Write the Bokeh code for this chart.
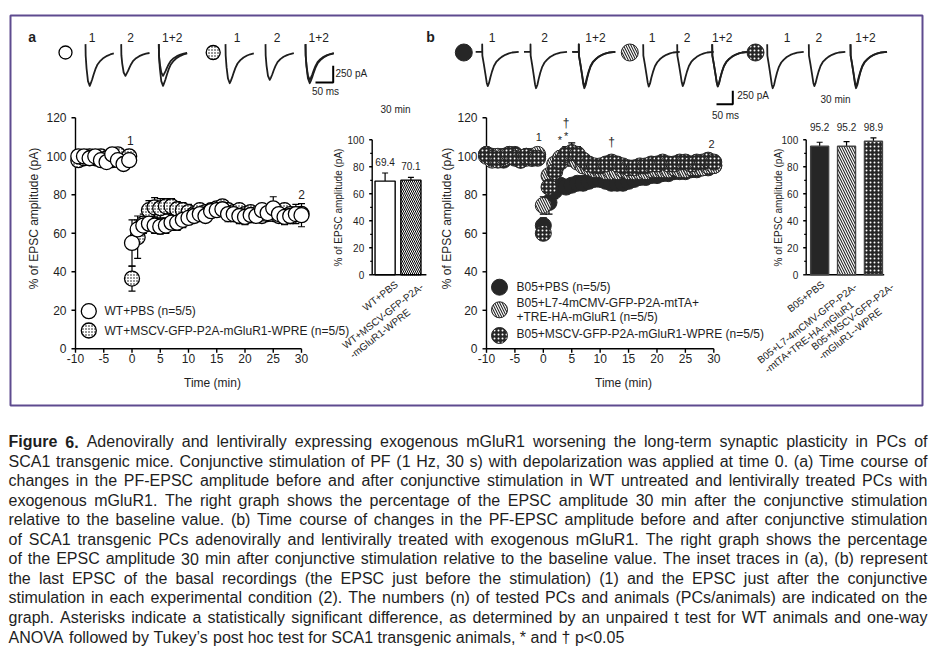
import math
from bokeh.plotting import figure
from bokeh.models import Range1d
from bokeh.core.properties import value
from bokeh.embed import file_html
from bokeh.resources import INLINE

FONT = value("Liberation Sans")

# ---------------- data ----------------
a_time = [-9.5, -8.5, -7.5, -6.5, -5.5, -4.5, -3.5, -2.5, -1.5, -0.5,
          0, 1, 2, 3, 4, 5, 6, 7, 8, 9, 10, 11, 12, 13, 14, 15, 16, 17, 18, 19, 20,
          21, 22, 23, 24, 25, 26, 27, 28, 29, 30]
wt_pbs = [100, 100, 99, 100, 98, 97, 101, 98, 96, 98,
          55, 62, 64, 65, 64, 63.5, 64, 65.5, 65.5, 67, 68, 69, 70, 69, 71.5, 72, 72.5, 70, 70, 69,
          68.5, 69.5, 69, 72, 70.5, 73, 70, 68.5, 69, 70, 69.4]
wt_pbs_err = [2, 2, 2, 2, 2, 2, 2, 2, 2, 2,
              12, 5, 4, 4, 4, 4, 4, 4, 4, 4, 3, 3, 3, 3, 3, 3, 3, 4, 4, 4,
              4, 4, 3, 3, 4, 6, 4, 4, 4, 5, 6]
wt_mscv = [98, 99, 100, 99, 100, 99, 98, 101, 97, 100,
           36.5, 58, 65, 72, 73.5, 73, 74, 74, 72.5, 72, 71, 70, 72, 71, 72, 73, 74, 72, 71, 72,
           70, 71, 70, 69, 70, 70, 69, 72, 70, 70, 70.1]
wt_mscv_err = [2, 2, 2, 2, 2, 2, 2, 2, 2, 2,
               6.5, 11, 5, 5, 5, 5, 4, 4, 4, 4, 4, 3, 3, 3, 3, 3, 3, 3, 3, 3,
               3, 3, 3, 3, 3, 3, 3, 3, 3, 3, 3]
a_legend = ["WT+PBS (n=5/5)", "WT+MSCV-GFP-P2A-mGluR1-WPRE (n=5/5)"]
a_note_x = [-0.3, 30]
a_note_y = [108, 80]
a_note_text = ["1", "2"]

b_time = [-10, -9, -8, -7, -6, -5, -4, -3, -2, -1,
          0, 1, 2, 3, 4, 5, 6, 7, 8, 9, 10, 11, 12, 13, 14, 15, 16, 17, 18, 19, 20,
          21, 22, 23, 24, 25, 26, 27, 28, 29, 30]
b05_pbs = [101, 100, 99, 98, 100, 101, 99, 100, 99, 100,
           64, 76, 82, 85, 84, 85, 86, 86, 87, 88, 88, 87, 86, 86, 86, 87, 88, 89, 89, 90,
           90, 91, 91, 92, 92, 92, 93, 93, 94, 94, 95.2]
b05_pbs_err = [2, 2, 2, 2, 2, 2, 2, 2, 2, 2,
               4, 6, 4, 3, 3, 3, 3, 3, 3, 3, 3, 3, 3, 3, 3, 3, 2, 2, 2, 2,
               2, 2, 2, 2, 2, 2, 2, 2, 2, 2, 2]
b05_l7 = [100, 98, 100, 99, 101, 100, 98, 99, 100, 101,
          74.5, 90, 96, 99, 100, 99, 97, 95, 94, 93, 93, 92, 92, 92, 93, 92, 92, 92, 92, 93,
          93, 93, 93, 94, 93, 93, 94, 94, 94, 95, 95.2]
b05_l7_err = [2, 2, 2, 2, 2, 2, 2, 2, 2, 2,
              4.5, 3, 3, 4, 5, 4, 3, 3, 3, 3, 3, 3, 3, 2, 2, 2, 2, 2, 2, 2,
              2, 2, 2, 2, 2, 2, 2, 2, 2, 2, 2]
b05_mscv = [101, 99, 98, 100, 101, 99, 98, 100, 99, 99,
            60, 84, 92, 97, 101, 102, 101, 98, 96, 95, 95, 96, 97, 96, 95, 94, 94, 95, 95, 96,
            96, 97, 96, 96, 97, 97, 96, 97, 97, 98, 97]
b05_mscv_err = [2, 2, 2, 2, 2, 2, 2, 2, 2, 2,
                3, 3, 3, 4, 4, 5, 4, 3, 3, 3, 3, 3, 3, 3, 2, 2, 2, 2, 2, 2,
                2, 2, 2, 2, 2, 2, 2, 2, 2, 2, 2]
b_legend = ["B05+PBS (n=5/5)", "B05+L7-4mCMV-GFP-P2A-mtTA+", "+TRE-HA-mGluR1 (n=5/5)",
            "B05+MSCV-GFP-P2A-mGluR1-WPRE (n=5/5)"]
b_note_x = [-0.8, 2.9, 4.0, 29.6]
b_note_y = [110, 108.5, 110.5, 106.5]
b_note_text = ["1", "*", "*", "2"]
b_dagger_x = [4.0, 12]
b_dagger_y = [117.5, 107.5]

time_ticks = [-10, -5, 0, 5, 10, 15, 20, 25, 30]
pct_ticks = [0, 20, 40, 60, 80, 100, 120]
bar_ticks = [0, 20, 40, 60, 80, 100]
bar_minor = [10, 30, 50, 70, 90]

a_bar_labels = ["WT+PBS", "WT+MSCV-GFP-P2A-\n-mGluR1-WPRE"]
a_bar_values = [69.4, 70.1]
a_bar_err = [6.0, 2.0]
b_bar_labels = ["B05+PBS", "B05+L7-4mCMV-GFP-P2A-\n-mtTA+TRE-HA-mGluR1", "B05+MSCV-GFP-P2A-\n-mGluR1--WPRE"]
b_bar_values = [95.2, 95.2, 98.9]
b_bar_err = [3.0, 3.5, 2.5]

a_trace_ms = [0, 0.5, 3, 7, 12, 15, 19, 23, 28, 34, 42, 51, 61, 70, 80]
wt_pbs_trace1 = [115, -60, -250, -440, -510, -470, -410, -340, -260, -190, -135, -92, -60, -40, -25]
wt_pbs_trace2 = [115, -50, -180, -310, -360, -330, -290, -240, -185, -135, -95, -65, -42, -28, -18]
wt_mscv_trace1 = [115, -55, -230, -400, -470, -435, -380, -315, -240, -175, -125, -85, -55, -37, -23]
wt_mscv_trace2 = [115, -55, -210, -360, -420, -390, -340, -280, -215, -155, -110, -75, -50, -33, -20]

b_trace_ms = [0, 0.5, 5, 10, 14, 17, 21, 25, 30, 36, 43, 51, 60, 71, 82, 92, 112]
b_pbs_trace_ms = [-20, 0, 0, 0.5, 5, 10, 14, 17, 21, 25, 30, 36, 43, 51, 60, 71, 82, 92, 112]
b05_pbs_trace1 = [0, 0, 140, -70, -230, -420, -580, -640, -580, -480, -370, -265, -190, -140, -95, -56, -30, -13, 0]
b05_pbs_trace2 = [0, 0, 140, -70, -240, -440, -610, -680, -620, -510, -390, -280, -200, -145, -98, -58, -32, -14, 0]
b05_l7_trace1 = [140, -70, -230, -420, -580, -650, -590, -485, -375, -270, -195, -140, -95, -56, -30, -13, 0]
b05_l7_trace2 = [140, -70, -225, -410, -570, -640, -580, -480, -370, -265, -190, -138, -94, -55, -30, -13, 0]
b05_mscv_trace1 = [140, -70, -240, -440, -610, -680, -620, -510, -390, -280, -200, -145, -98, -58, -32, -14, 0]
b05_mscv_trace2 = [140, -70, -230, -420, -580, -640, -580, -480, -370, -265, -190, -140, -95, -56, -30, -13, 0]
scale_ms = [0, 50, 50]
scale_pA = [0, 0, 250]

caption_lines = [
    "Figure 6. Adenovirally and lentivirally expressing exogenous mGluR1 worsening the long-term synaptic plasticity in PCs of",
    "SCA1 transgenic mice. Conjunctive stimulation of PF (1 Hz, 30 s) with depolarization was applied at time 0. (a) Time course of",
    "changes in the PF-EPSC amplitude before and after conjunctive stimulation in WT untreated and lentivirally treated PCs with",
    "exogenous mGluR1. The right graph shows the percentage of the EPSC amplitude 30 min after the conjunctive stimulation",
    "relative to the baseline value. (b) Time course of changes in the PF-EPSC amplitude before and after conjunctive stimulation",
    "of SCA1 transgenic PCs adenovirally and lentivirally treated with exogenous mGluR1. The right graph shows the percentage",
    "of the EPSC amplitude 30 min after conjunctive stimulation relative to the baseline value. The inset traces in (a), (b) represent",
    "the last EPSC of the basal recordings (the EPSC just before the stimulation) (1) and the EPSC just after the conjunctive",
    "stimulation in each experimental condition (2). The numbers (n) of tested PCs and animals (PCs/animals) are indicated on the",
    "graph. Asterisks indicate a statistically significant difference, as determined by an unpaired t test for WT animals and one-way",
    "ANOVA followed by Tukey\u2019s post hoc test for SCA1 transgenic animals, * and \u2020 p<0.05",
]

# ---------------- helpers ----------------
ARIAL = {}
for chars, w in [("abdeghnopqu0123456789", 556), ("cksvxyzJ", 500), ("r", 333), ("ft", 278),
                 ("ijl", 222), ("m", 833), ("w", 722), ("ABEKPSVXY", 667), ("CDHNRU", 722),
                 ("FTZ", 611), ("GOQ", 778), ("I", 278), ("L", 556), ("M", 833), ("W", 944),
                 (" .,/:;!", 278), ("()-", 333), ("\u2019", 222), ("'", 191), ("*", 389),
                 ("\u2020", 556), ("<+=", 584), ("%", 889)]:
    for c in chars:
        ARIAL[c] = w
ARIAL_B = {"F": 611, "i": 278, "g": 611, "u": 611, "r": 389, "e": 556, "6": 556, ".": 278, " ": 278}


def wpx(s, size, bold=False):
    tab = ARIAL_B if bold else ARIAL
    return sum(tab.get(c, ARIAL.get(c, 556)) for c in s) * size / 1000.0


def Y(y):
    return 664 - y


PW, PH = 932, 662
p = figure(width=PW, height=PH, x_range=Range1d(0, PW), y_range=Range1d(664 - PH, 664),
           x_axis_location=None, y_axis_location=None, output_backend="svg",
           toolbar_location=None, min_border=0, outline_line_color=None)
p.grid.visible = False
p.background_fill_color = "white"


def sp(xs, xt, ys, yt):
    return p.subplot(x_source=Range1d(*xs), y_source=Range1d(*ys),
                     x_target=Range1d(*xt), y_target=Range1d(Y(yt[0]), Y(yt[1])))


INK = "#1e1e1e"
DARK = "#262626"
TXT = dict(text_font=FONT, text_color=INK)

p.quad(left=[10], right=[922], top=[Y(15)], bottom=[Y(405)], fill_color=None,
       line_color="#5e4b8f", line_width=2)


def axes(s, xticks, yticks, x_end, fs, tick, xlab=True, minor=None):
    x0, y0 = xticks[0] if xlab else 0, yticks[0]
    s.segment(x0=[x0, x0], y0=[y0, y0], x1=[x0, x_end], y1=[yticks[-1], y0],
              line_color="black", line_width=1.4)
    s.ray(x=[x0] * len(yticks), y=yticks, length=tick, angle=math.pi, length_units="screen",
          line_color="black", line_width=1.4)
    if minor:
        s.ray(x=[x0] * len(minor), y=minor, length=2, angle=math.pi, length_units="screen",
              line_color="black", line_width=1.2)
    s.text(x=[x0] * len(yticks), y=yticks, text=[str(v) for v in yticks], x_offset=-(tick + 5),
           text_align="right", text_baseline="middle", text_font_size=fs, **TXT)
    if xlab:
        s.ray(x=xticks, y=[y0] * len(xticks), length=tick, angle=-math.pi / 2, length_units="screen",
              line_color="black", line_width=1.4)
        s.text(x=xticks, y=[y0] * len(xticks), text=[str(v) for v in xticks], y_offset=5,
               text_align="center", text_baseline="top", text_font_size=fs, **TXT)


def errbars(s, x, y, e, color="black", size=7):
    lo = [v - d for v, d in zip(y, e)]
    hi = [v + d for v, d in zip(y, e)]
    s.segment(x0=x, y0=lo, x1=x, y1=hi, line_color=color, line_width=1.2)
    s.scatter(x=x + x, y=lo + hi, marker="dash", size=size, line_color=color, line_width=1.2)


STIP_W = dict(fill_color="white", line_color="black", hatch_pattern="dot", hatch_color="black",
              hatch_scale=3, hatch_weight=0.1)
OPEN_W = dict(fill_color="white", line_color="black")
SOLID_D = dict(fill_color=DARK, line_color=DARK)
HATCH_D = dict(fill_color=DARK, line_color=DARK, hatch_pattern="\\", hatch_color="white",
               hatch_scale=5, hatch_weight=1.2)
STIP_D = dict(fill_color=DARK, line_color=DARK, hatch_pattern="dot", hatch_color="white",
              hatch_scale=4, hatch_weight=0.1)

# ---------------- panel a main ----------------
sa = sp((-10, 30), (75, 301), (0, 120), (348.3, 117.3))
axes(sa, time_ticks, pct_ticks, 30, "12px", 4)
errbars(sa, a_time, wt_mscv, wt_mscv_err)
errbars(sa, a_time, wt_pbs, wt_pbs_err)
sa.scatter(a_time, wt_mscv, size=15, marker="circle", line_width=1.3, **STIP_W)
sa.scatter(a_time, wt_pbs, size=15, marker="circle", line_width=1.3, **OPEN_W)
sa.text(x=a_note_x, y=a_note_y, text=a_note_text, text_align="center", text_baseline="middle",
        text_font_size="12px", **TXT)
p.scatter([88.3], [Y(310.7)], size=15, marker="circle", line_width=1.3, **OPEN_W)
p.scatter([88.3], [Y(330)], size=15, marker="circle", line_width=1.3, **STIP_W)
p.text(x=[104, 104], y=[Y(310.7), Y(330)], text=a_legend, text_baseline="middle",
       text_font_size="12px", **TXT)

# ---------------- panel b main ----------------
sb = sp((-10, 30), (486, 713.3), (0, 120), (348.3, 117.3))
axes(sb, time_ticks, pct_ticks, 30, "12px", 4)
errbars(sb, b_time, b05_pbs, b05_pbs_err)
errbars(sb, b_time, b05_l7, b05_l7_err)
errbars(sb, b_time, b05_mscv, b05_mscv_err)
sb.scatter(b_time, b05_pbs, size=16, marker="circle", line_width=1, **SOLID_D)
sb.scatter(b_time, b05_l7, size=16, marker="circle", line_width=1, **HATCH_D)
sb.scatter(b_time, b05_mscv, size=16, marker="circle", line_width=1, **STIP_D)
sb.text(x=b_note_x, y=b_note_y, text=b_note_text, text_align="center", text_baseline="middle",
        text_font_size="11px", **TXT)
sb.text(x=b_dagger_x, y=b_dagger_y, text=["\u2020"] * len(b_dagger_x), text_align="center",
        text_baseline="middle", text_font_size="12px", **TXT)
p.scatter([499], [Y(286.7)], size=16, marker="circle", line_width=1, **SOLID_D)
p.scatter([499], [Y(309.3)], size=16, marker="circle", line_width=1, **HATCH_D)
p.scatter([499], [Y(335)], size=16, marker="circle", line_width=1, **STIP_D)
p.text(x=[516] * 4, y=[Y(286.7), Y(302.3), Y(316.7), Y(333.3)], text=b_legend,
       text_baseline="middle", text_font_size="12px", **TXT)

p.text(x=[33, 446.7], y=[Y(218), Y(218)], text=["% of EPSC amplitude (pA)"] * 2, angle=math.pi / 2,
       text_align="center", text_baseline="middle", text_font_size="12px", **TXT)
p.text(x=[212, 623], y=[Y(382), Y(382)], text=["Time (min)"] * 2, text_align="center",
       text_baseline="middle", text_font_size="12px", **TXT)
p.text(x=[338, 778], y=[Y(207), Y(207)], text=["% of EPSC amplitude (pA)"] * 2, angle=math.pi / 2,
       text_align="center", text_baseline="middle", text_font_size="10px", **TXT)

# ---------------- bar insets ----------------
ANG = math.radians(38)


def inset(s, labels, vals, errs, styles, width, x_end, label_off, val_at_top):
    xs = [i + 0.5 for i in range(len(vals))]
    axes(s, [0], bar_ticks, x_end, "10px", 3, xlab=False, minor=bar_minor)
    tops = [v + e for v, e in zip(vals, errs)]
    s.segment(x0=xs, y0=vals, x1=xs, y1=tops, line_color="black", line_width=1.2)
    s.scatter(x=xs, y=tops, marker="dash", size=6, line_color="black", line_width=1.2)
    for i, st in enumerate(styles):
        s.vbar(x=[xs[i]], top=[vals[i]], width=width, bottom=0, line_width=1.4, **st)
    if val_at_top:
        s.text(x=xs, y=tops, text=["%.1f" % v for v in vals], y_offset=-11, text_align="center",
               text_baseline="middle", text_font_size="10px", **TXT)
    else:
        s.text(x=xs, y=[bar_ticks[-1]] * len(xs), text=["%.1f" % v for v in vals], y_offset=-12.6,
               text_align="center", text_baseline="middle", text_font_size="10px", **TXT)
    for i, lab in enumerate(labels):
        w1 = wpx(lab.split("\n")[0], 10)
        dx, dy = label_off[i]
        s.text(x=[xs[i]], y=[0], text=[lab], angle=ANG,
               x_offset=dx - w1 * math.cos(ANG), y_offset=dy + w1 * math.sin(ANG),
               text_align="left", text_baseline="top", text_font_size="10px",
               text_line_height=1.1, **TXT)


si_a = sp((0, 2.1), (371.7, 425.9), (0, 100), (274.3, 139.3))
bar_a_styles = [dict(fill_color="white", line_color="black"),
                dict(fill_color="white", line_color="black", hatch_pattern="\\", hatch_color="black",
                     hatch_scale=4, hatch_weight=1)]
inset(si_a, a_bar_labels, a_bar_values, a_bar_err, bar_a_styles, 0.78, 2.1,
      [(8, 4), (8, 6)], True)

si_b = sp((0, 2.9), (805.7, 883.7), (0, 100), (274.3, 139.3))
bar_b_styles = [dict(fill_color=DARK, line_color="#444444"),
                dict(fill_color=DARK, line_color="#444444", hatch_pattern="\\", hatch_color="white",
                     hatch_scale=5, hatch_weight=1.2),
                dict(fill_color=DARK, line_color="#444444", hatch_pattern="dot", hatch_color="white",
                     hatch_scale=4, hatch_weight=0.1)]
inset(si_b, b_bar_labels, b_bar_values, b_bar_err, bar_b_styles, 0.67, 2.9,
      [(0, 4), (6, 6), (16, 6)], False)

# ---------------- traces ----------------
TR = dict(line_color=INK, line_width=1.8, line_join="round")


def trace(x0, ms, traces, px50, px250):
    s = sp((0, 50), (x0, x0 + px50), (0, 250), (51.3, 51.3 - px250))
    for tr in traces:
        s.line(ms, tr, **TR)


A50, A250 = 17.7, 16.7
trace(85, a_trace_ms, [wt_pbs_trace1], A50, A250)
trace(120.7, a_trace_ms, [wt_pbs_trace2], A50, A250)
trace(158.3, a_trace_ms, [wt_pbs_trace1, wt_pbs_trace2], A50, A250)
trace(225, a_trace_ms, [wt_mscv_trace1], A50, A250)
trace(265, a_trace_ms, [wt_mscv_trace2], A50, A250)
trace(305, a_trace_ms, [wt_mscv_trace1, wt_mscv_trace2], A50, A250)

B50, B250 = 16.3, 13.4
trace(481.7, b_pbs_trace_ms, [b05_pbs_trace1], B50, B250)
trace(530, b_pbs_trace_ms, [b05_pbs_trace2], B50, B250)
trace(578.3, b_pbs_trace_ms, [b05_pbs_trace1, b05_pbs_trace2], B50, B250)
trace(642.7, b_trace_ms, [b05_l7_trace1], B50, B250)
trace(676.7, b_trace_ms, [b05_l7_trace2], B50, B250)
trace(711.7, b_trace_ms, [b05_l7_trace1, b05_l7_trace2], B50, B250)
trace(766.7, b_trace_ms, [b05_mscv_trace1], B50, B250)
trace(808.3, b_trace_ms, [b05_mscv_trace2], B50, B250)
trace(850, b_trace_ms, [b05_mscv_trace1, b05_mscv_trace2], B50, B250)

ssa = sp((0, 50), (315, 315 + A50), (0, 250), (82, 82 - A250))
ssa.line(scale_ms, scale_pA, line_color="black", line_width=2)
ssb = sp((0, 50), (716, 716 + B50), (0, 250), (103.7, 103.7 - B250))
ssb.line(scale_ms, scale_pA, line_color="black", line_width=2)
p.text(x=[335, 736.7], y=[Y(72.7), Y(94.7)], text=["250 pA"] * 2, text_baseline="middle",
       text_font_size="10px", **TXT)
p.text(x=[325, 725, 395, 835], y=[Y(90.5), Y(115), Y(109), Y(98.7)],
       text=["50 ms", "50 ms", "30 min", "30 min"], text_align="center", text_baseline="middle",
       text_font_size="10px", **TXT)

p.scatter([65], [Y(52)], size=13, marker="circle", line_width=1.3, **OPEN_W)
p.scatter([212.7], [Y(52)], size=14, marker="circle", line_width=1.3, **STIP_W)
p.scatter([463.3], [Y(52)], size=17, marker="circle", line_width=1, **SOLID_D)
p.scatter([629.3], [Y(52)], size=17, marker="circle", line_width=1, **HATCH_D)
p.scatter([755], [Y(52)], size=17, marker="circle", line_width=1, **STIP_D)

trace_lab_x = [91.7, 130, 171.7, 236.7, 276.7, 318.3,
               491.7, 544, 595, 651.7, 686.7, 721.7, 786.7, 818.3, 865]
trace_lab = ["1", "2", "1+2"] * 5
p.text(x=trace_lab_x, y=[Y(37)] * len(trace_lab_x), text=trace_lab, text_align="center",
       text_baseline="middle", text_font_size="12px", **TXT)

p.text(x=[31.7, 430], y=[Y(36.7)] * 2, text=["a", "b"], text_align="center", text_baseline="middle",
       text_font_size="14px", text_font_style="bold", **TXT)

# ---------------- caption ----------------
CAP = 16
CAP_W = 919
for i, line in enumerate(caption_lines):
    words = line.split(" ")
    yy = Y(441 + 19.55 * i)
    nb = 2 if i == 0 else 0
    size = CAP
    nat = sum(wpx(w, size, j < nb) for j, w in enumerate(words))
    min_gap = 0.22 * size
    if nat + min_gap * (len(words) - 1) > CAP_W:
        size = size * (CAP_W - min_gap * (len(words) - 1)) / nat
    widths = [wpx(w, size, j < nb) for j, w in enumerate(words)]
    if i < len(caption_lines) - 1:
        gap = (CAP_W - sum(widths)) / (len(words) - 1)
    else:
        gap = wpx(" ", size)
    x = 8
    nx, nt, bx, bt = [], [], [], []
    for j, w in enumerate(words):
        if j < nb:
            bx.append(x); bt.append(w)
        else:
            nx.append(x); nt.append(w)
        x += widths[j] + gap
    fs = "%.2fpx" % size
    p.text(x=nx, y=[yy] * len(nx), text=nt, text_baseline="middle", text_font_size=fs, **TXT)
    if bx:
        p.text(x=bx, y=[yy] * len(bx), text=bt, text_baseline="middle", text_font_size=fs,
               text_font_style="bold", **TXT)

open("out.html", "w").write(file_html(p, INLINE))
